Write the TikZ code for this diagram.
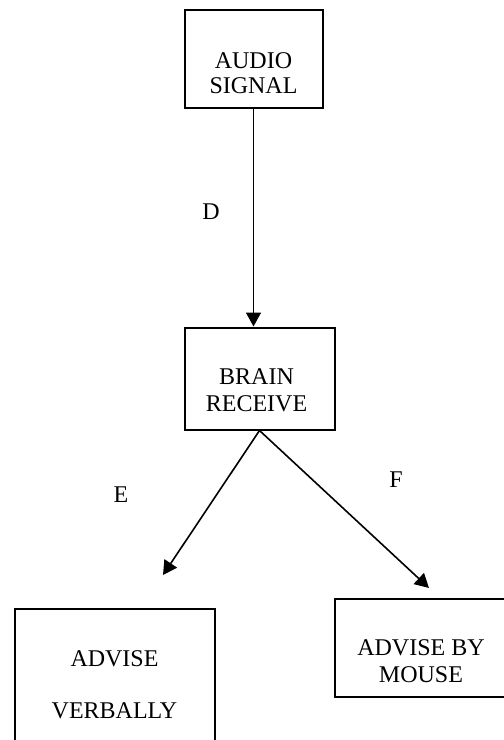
\documentclass[tikz,border=0pt]{standalone}
\usepackage{fontspec}
\setmainfont{Liberation Serif}
\usetikzlibrary{arrows.meta}
\tikzset{
    every node/.style={inner sep=0mm, align=center, font=\fontsize{12}{13.5}\selectfont}
}
\tikzset{box/.style={rectangle, draw, line width=1pt}}

\begin{document}
\begin{tikzpicture}[x=0.5pt, y=-0.5pt, line width=0.8pt, >={Triangle[length=7pt, width=7.5pt]}]
  \useasboundingbox (0,0) rectangle (504,740);

  \node (audio) [box, minimum width=69pt, minimum height=49pt] at (253.5,58.5) {};
  \node (brain) [box, minimum width=75pt, minimum height=51pt] at (259.5,378.5) {};
  \node (verbal) [box, minimum width=100pt, minimum height=75pt] at (114.5,684) {};
  \node (mouse) [box, minimum width=86pt, minimum height=49pt] at (421,647.5) {};

  \node (audiot) at (253.5,73) {AUDIO\\[-1pt]SIGNAL};
  \node (braint) at (256.5,390) {BRAIN\\RECEIVE};
  \node (verbalt) at (114.5,685) {ADVISE\\[12.5pt]VERBALLY};
  \node (mouset) at (421,661) {ADVISE BY\\MOUSE};

  \node (D) at (211,212) {D};
  \node (E) at (121,495) {E};
  \node (F) at (396,480) {F};

  \coordinate (tipE) at (163,575);
  \coordinate (tipF) at (429,588);

  \draw (audio.south) edge [->] (audio.south |- brain.north);
  \draw (brain.south) edge [->] (tipE);
  \draw (brain.south) edge [->] (tipF);
\end{tikzpicture}
\end{document}
